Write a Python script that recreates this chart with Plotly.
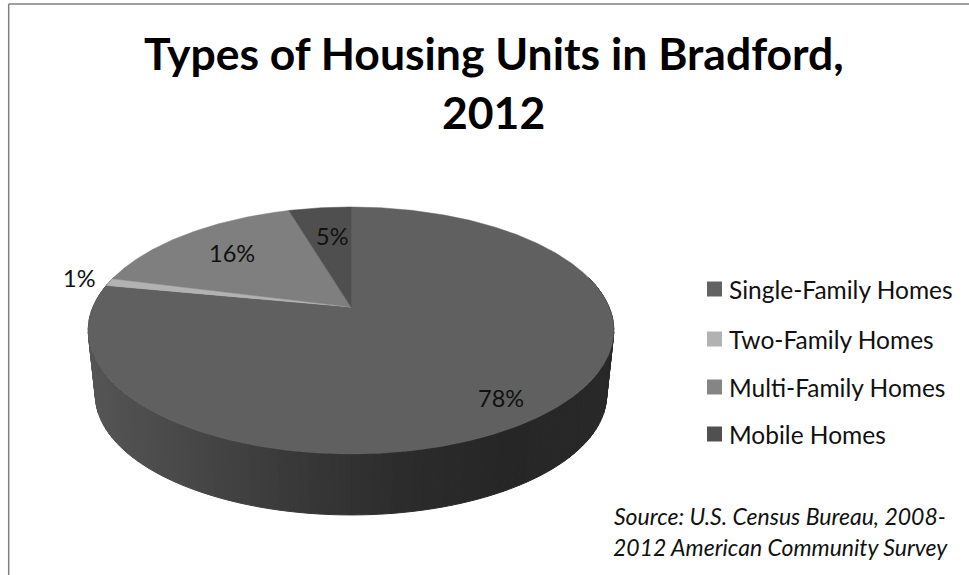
import math
import plotly.graph_objects as go

# ---- data ----
categories = ["Single-Family Homes", "Two-Family Homes", "Multi-Family Homes", "Mobile Homes"]
values = [78.0, 1.0, 16.4, 4.6]
value_labels = ["78%", "1%", "16%", "5%"]
top_colors = ["#606060", "#b2b2b2", "#7f7f7f", "#4f4f4f"]
legend_colors = ["#626262", "#b2b2b2", "#858585", "#505050"]
title_lines = ["Types of Housing Units in Bradford,", "2012"]
source_lines = ["Source: U.S. Census Bureau, 2008-", "2012 American Community Survey"]
# side wall shading, left to right
side_shades = [(84, 84, 84), (70, 70, 70), (56, 56, 56), (44, 44, 44), (38, 38, 38), (40, 40, 40)]

FONT = "Lato"
CX, CY = 351, 307          # apex of the top face, px
A, B, P = 258, 119, 0.19   # perspective parameters
DROP = 65                  # apex shift of the base
BASE = 0.973               # base scale


def project(theta, scale=1.0, dy=0.0):
    t = math.radians(theta)
    w = 1 + P * math.cos(t)
    return CX + scale * A * math.sin(t) / w, CY + dy - scale * B * math.cos(t) / w


def arc(a, b, scale=1.0, dy=0.0):
    n = max(2, int(abs(b - a) * 2))
    return [project(a + (b - a) * i / n, scale, dy) for i in range(n + 1)]


fig = go.Figure()

# side wall: narrow strips, shaded across the pie
n_strips = 110
lo, hi = 75.0, 285.0
xmin, xmax = project(270)[0], project(90)[0]
for i in range(n_strips):
    a = hi - (hi - lo) * i / n_strips
    b = hi - (hi - lo) * (i + 1) / n_strips
    pts = arc(a, b) + arc(b, a, BASE, DROP)
    xmid = (project(a)[0] + project(b)[0]) / 2
    f = min(max((xmid - xmin) / (xmax - xmin), 0), 0.9999) * (len(side_shades) - 1)
    k = int(f)
    c = [round(side_shades[k][j] + (side_shades[k + 1][j] - side_shades[k][j]) * (f - k)) for j in range(3)]
    col = f"rgb({c[0]},{c[1]},{c[2]})"
    fig.add_trace(go.Scatter(
        x=[p[0] for p in pts] + [pts[0][0]], y=[p[1] for p in pts] + [pts[0][1]],
        mode="lines", fill="toself", fillcolor=col, line=dict(color=col, width=1),
        hoverinfo="skip", showlegend=False))

# top face: one wedge per category, sized from values
total = sum(values)
start = 0.0
for name, val, col in zip(categories, values, top_colors):
    end = start + 360 * val / total
    pts = [(CX, CY)] + arc(start, end) + [(CX, CY)]
    fig.add_trace(go.Scatter(
        x=[p[0] for p in pts], y=[p[1] for p in pts], mode="lines", fill="toself",
        fillcolor=col, line=dict(color=col, width=0.5), name=name,
        text=f"{name}: {val:g}%", hoverinfo="text", showlegend=False))
    start = end

# legend keys
legend_y = [289, 339, 387, 434]
fig.add_trace(go.Scatter(
    x=[714.5] * 4, y=legend_y, mode="markers",
    marker=dict(symbol="square", size=15, color=legend_colors, line=dict(width=0)),
    hoverinfo="skip", showlegend=False))

ann = []
for name, y in zip(categories, legend_y):
    ann.append(dict(x=727, y=y, text=name, xanchor="left", yanchor="middle", showarrow=False,
                    font=dict(family=FONT, size=24.5, color="#111111")))
for lab, (x, y) in zip(value_labels, [(501, 398), (79, 278), (232, 253), (332, 236)]):
    ann.append(dict(x=x, y=y, text=lab, xanchor="center", yanchor="middle", showarrow=False,
                    font=dict(family=FONT, size=23.5, color="#111111")))
for line, y in zip(source_lines, [516, 547]):
    ann.append(dict(x=780, y=y, text=f"<i>{line}</i>", xanchor="center", yanchor="middle", showarrow=False,
                    font=dict(family=FONT, size=23, color="#111111")))
for line, y in zip(title_lines, [52, 111]):
    ann.append(dict(x=493.5, y=y, text=f"<b>{line}</b>", xanchor="center", yanchor="middle", showarrow=False,
                    font=dict(family=FONT, size=44.5, color="#000000")))

fig.update_layout(
    width=969, height=575, margin=dict(l=0, r=0, t=0, b=0),
    paper_bgcolor="white", plot_bgcolor="white", showlegend=False,
    xaxis=dict(range=[0, 969], visible=False, fixedrange=True),
    yaxis=dict(range=[575, 0], visible=False, fixedrange=True),
    annotations=ann,
    shapes=[
        dict(type="line", x0=8.7, x1=969, y0=4, y1=4, line=dict(color="#808080", width=1.5)),
        dict(type="line", x0=8.7, x1=8.7, y0=4, y1=575, line=dict(color="#808080", width=1.5)),
    ],
)
fig.write_html("out.html", config=dict(displayModeBar=False),
               post_script="document.body.style.margin='0';document.body.style.overflow='hidden';")
